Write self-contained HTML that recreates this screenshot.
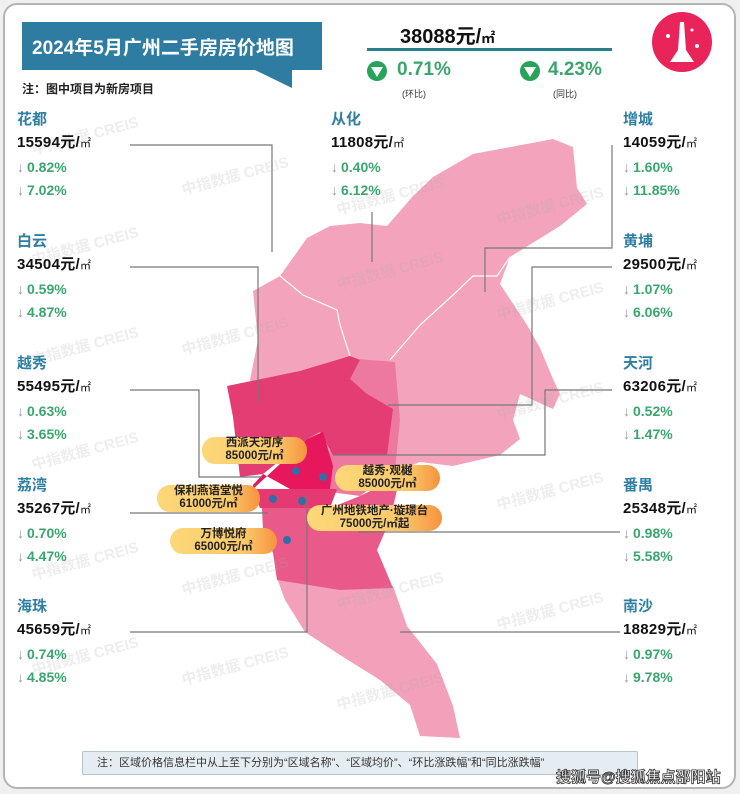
<!DOCTYPE html>
<html><head><meta charset="utf-8">
<style>
*{margin:0;padding:0;box-sizing:border-box}
body{width:740px;height:794px;background:#f0f0f0;position:relative;overflow:hidden;font-family:"Liberation Sans","Noto Sans CJK SC",sans-serif}
.frame{position:absolute;left:3px;top:3px;width:733px;height:786px;background:#fff;border:2px solid #b5b5b5;border-radius:14px}
.abs{position:absolute}
.blk{position:absolute;line-height:23px}
.nm{color:#2f7fa3;font-size:15px;font-weight:bold}
.pr{color:#111;font-size:15px;font-weight:bold;letter-spacing:0.3px}
.pr small{font-size:11px;font-weight:normal}
.pc{color:#3aa66e;font-size:14px;font-weight:bold}
.pc i{font-style:normal;color:#999;font-weight:normal;margin-right:3px}
.wm{position:absolute;color:rgba(170,170,170,0.2);font-size:15px;font-weight:bold;transform:rotate(-15deg);white-space:nowrap}
.bub{position:absolute;border-radius:13px;background:linear-gradient(90deg,#fcd878 0%,#fbc86a 70%,#f6923f 100%);font-size:11.5px;font-weight:bold;color:#222;text-align:center;line-height:13px;padding-top:0px}
</style></head><body>
<div class="frame"></div>
<div class="abs" style="left:22px;top:22px;width:300px;height:48px;background:#2f7ca3"></div>
<svg class="abs" style="left:0;top:0" width="740" height="794">
<polygon points="255,70 292,70 292,88" fill="#2f7ca3"/>
</svg>
<div class="abs" style="left:32px;top:33px;color:#fff;font-size:19px;font-weight:bold">2024年5月广州二手房房价地图</div>
<div class="abs" style="left:22px;top:80px;font-size:12px;font-weight:bold;color:#222">注：图中项目为新房项目</div>
<div class="abs" style="left:400px;top:20px;font-size:20px;color:#111;font-weight:bold">38088元/<span style="font-size:14px">㎡</span></div>
<div class="abs" style="left:367px;top:48px;width:245px;height:3px;background:#2a7f8a"></div>
<svg class="abs" style="left:0;top:0" width="740" height="794">
<circle cx="377" cy="71" r="10" fill="#27a35a"/><polygon points="371,67 383,67 377,77" fill="#fff"/>
<circle cx="530" cy="71" r="10" fill="#27a35a"/><polygon points="524,67 536,67 530,77" fill="#fff"/>
<circle cx="682" cy="42" r="30" fill="#e8245a"/>
<polygon points="680,22 684,22 686,50 694,62 670,62 678,50" fill="#fff"/>
<circle cx="668" cy="36" r="2" fill="#fff"/><circle cx="697" cy="46" r="2" fill="#fff"/><circle cx="692" cy="30" r="1.5" fill="#fff"/>
</svg>
<div class="abs" style="left:397px;top:59px;font-size:19px;color:#3aa66e;font-weight:bold">0.71%</div>
<div class="abs" style="left:548px;top:59px;font-size:19px;color:#3aa66e;font-weight:bold">4.23%</div>
<div class="abs" style="left:402px;top:87px;font-size:9px;color:#333">(环比)</div>
<div class="abs" style="left:553px;top:87px;font-size:9px;color:#333">(同比)</div>

<svg class="abs" style="left:0;top:0" width="740" height="794">
<polygon fill="#f4a3bd" points="250,380 258,340 253,291 280,276 307,238 330,226 360,223 387,226 413,196 433,177 473,154 553,139 573,147 577,188 587,204 560,226 510,257 500,284 527,325 540,348 553,379 560,394 553,409 520,394 513,420 520,439 500,455 453,466 420,462 400,470 350,470 300,440"/>
<polyline fill="none" stroke="#fff" stroke-width="1.2" points="280,276 303,295 337,310 340,325 350,356"/>
<polyline fill="none" stroke="#fff" stroke-width="1.2" points="390,360 420,325 453,295 473,276 497,276 510,257"/>
<polygon fill="#ee79a0" points="345,358 395,362 400,420 395,470 360,496 330,492 330,440"/>
<polygon fill="#e33d74" points="227,386 300,371 350,356 360,360 350,379 367,394 393,409 387,455 333,455 320,432 307,439 263,474 240,477 233,417"/>
<polygon fill="#f3a0bb" points="277,578 393,586 407,626 437,664 453,706 460,738 420,736 410,705 380,680 340,655 305,632 285,600"/>
<polygon fill="#e9598a" points="262,508 330,508 360,496 400,477 390,520 377,550 393,588 340,590 277,580 273,553 263,531"/>
<polygon fill="#e43a71" points="253,489 337,489 330,508 260,508"/>
<polygon fill="#e6175c" points="307,439 323,432 333,466 330,489 290,489 263,474 253,485 253,489"/>
<g fill="none" stroke="#777" stroke-width="1.2">
<polyline points="130,145 272,145 272,252"/>
<polyline points="130,267 258,267 258,402"/>
<polyline points="130,390 199,390 199,477 262,477"/>
<polyline points="130,513 268,513"/>
<polyline points="130,632 307,632 307,495"/>
<polyline points="372,212 372,262"/>
<polyline points="612,145 612,248 485,248 485,292"/>
<polyline points="612,267 532,267 532,405 388,405"/>
<polyline points="612,390 545,390 545,455 333,455"/>
<polyline points="620,532 358,532"/>
<polyline points="620,632 400,632"/>
</g>
</svg>
<div class="bub" style="left:202px;top:437px;width:105px;height:27px">西派天河序<br>85000元/㎡</div>
<div class="bub" style="left:335px;top:465px;width:105px;height:26px">越秀·观樾<br>85000元/㎡</div>
<div class="bub" style="left:157px;top:485px;width:103px;height:27px">保利燕语堂悦<br>61000元/㎡</div>
<div class="bub" style="left:307px;top:505px;width:135px;height:26px">广州地铁地产·璇璟台<br>75000元/㎡起</div>
<div class="bub" style="left:170px;top:528px;width:107px;height:26px">万博悦府<br>65000元/㎡</div>
<svg class="abs" style="left:0;top:0" width="740" height="794">
<g fill="#2f6fa8"><circle cx="296" cy="471" r="4"/><circle cx="323" cy="477" r="4"/><circle cx="273" cy="499" r="4"/><circle cx="302" cy="501" r="4"/><circle cx="287" cy="540" r="4"/></g>
</svg>
<div class="wm" style="left:30px;top:125px">中指数据 CREIS</div>
<div class="wm" style="left:180px;top:165px">中指数据 CREIS</div>
<div class="wm" style="left:335px;top:185px">中指数据 CREIS</div>
<div class="wm" style="left:495px;top:195px">中指数据 CREIS</div>
<div class="wm" style="left:30px;top:235px">中指数据 CREIS</div>
<div class="wm" style="left:335px;top:260px">中指数据 CREIS</div>
<div class="wm" style="left:495px;top:290px">中指数据 CREIS</div>
<div class="wm" style="left:30px;top:335px">中指数据 CREIS</div>
<div class="wm" style="left:180px;top:325px">中指数据 CREIS</div>
<div class="wm" style="left:495px;top:390px">中指数据 CREIS</div>
<div class="wm" style="left:30px;top:440px">中指数据 CREIS</div>
<div class="wm" style="left:495px;top:480px">中指数据 CREIS</div>
<div class="wm" style="left:30px;top:550px">中指数据 CREIS</div>
<div class="wm" style="left:335px;top:580px">中指数据 CREIS</div>
<div class="wm" style="left:495px;top:600px">中指数据 CREIS</div>
<div class="wm" style="left:180px;top:565px">中指数据 CREIS</div>
<div class="wm" style="left:30px;top:645px">中指数据 CREIS</div>
<div class="wm" style="left:180px;top:655px">中指数据 CREIS</div>
<div class="wm" style="left:335px;top:680px">中指数据 CREIS</div>
<div class="blk" style="left:17px;top:108px"><div class="nm">花都</div><div class="pr">15594元/<small>㎡</small></div><div class="pc"><i>↓</i>0.82%</div><div class="pc"><i>↓</i>7.02%</div></div>
<div class="blk" style="left:17px;top:230px"><div class="nm">白云</div><div class="pr">34504元/<small>㎡</small></div><div class="pc"><i>↓</i>0.59%</div><div class="pc"><i>↓</i>4.87%</div></div>
<div class="blk" style="left:17px;top:352px"><div class="nm">越秀</div><div class="pr">55495元/<small>㎡</small></div><div class="pc"><i>↓</i>0.63%</div><div class="pc"><i>↓</i>3.65%</div></div>
<div class="blk" style="left:17px;top:474px"><div class="nm">荔湾</div><div class="pr">35267元/<small>㎡</small></div><div class="pc"><i>↓</i>0.70%</div><div class="pc"><i>↓</i>4.47%</div></div>
<div class="blk" style="left:17px;top:595px"><div class="nm">海珠</div><div class="pr">45659元/<small>㎡</small></div><div class="pc"><i>↓</i>0.74%</div><div class="pc"><i>↓</i>4.85%</div></div>
<div class="blk" style="left:331px;top:108px"><div class="nm">从化</div><div class="pr">11808元/<small>㎡</small></div><div class="pc"><i>↓</i>0.40%</div><div class="pc"><i>↓</i>6.12%</div></div>
<div class="blk" style="left:623px;top:108px"><div class="nm">增城</div><div class="pr">14059元/<small>㎡</small></div><div class="pc"><i>↓</i>1.60%</div><div class="pc"><i>↓</i>11.85%</div></div>
<div class="blk" style="left:623px;top:230px"><div class="nm">黄埔</div><div class="pr">29500元/<small>㎡</small></div><div class="pc"><i>↓</i>1.07%</div><div class="pc"><i>↓</i>6.06%</div></div>
<div class="blk" style="left:623px;top:352px"><div class="nm">天河</div><div class="pr">63206元/<small>㎡</small></div><div class="pc"><i>↓</i>0.52%</div><div class="pc"><i>↓</i>1.47%</div></div>
<div class="blk" style="left:623px;top:474px"><div class="nm">番禺</div><div class="pr">25348元/<small>㎡</small></div><div class="pc"><i>↓</i>0.98%</div><div class="pc"><i>↓</i>5.58%</div></div>
<div class="blk" style="left:623px;top:595px"><div class="nm">南沙</div><div class="pr">18829元/<small>㎡</small></div><div class="pc"><i>↓</i>0.97%</div><div class="pc"><i>↓</i>9.78%</div></div>
<div class="abs" style="left:82px;top:751px;width:556px;height:24px;background:#e6edf2;border:1px solid #b8c4cc;border-radius:2px;font-size:11px;color:#333;line-height:22px;padding-left:14px">注：区域价格信息栏中从上至下分别为“区域名称”、“区域均价”、“环比涨跌幅”和“同比涨跌幅”</div>
<div class="abs" style="left:556px;top:766px;font-size:15px;font-weight:bold;color:#fff;-webkit-text-stroke:0.8px #333;white-space:nowrap">搜狐号@搜狐焦点邵阳站</div>
</body></html>
